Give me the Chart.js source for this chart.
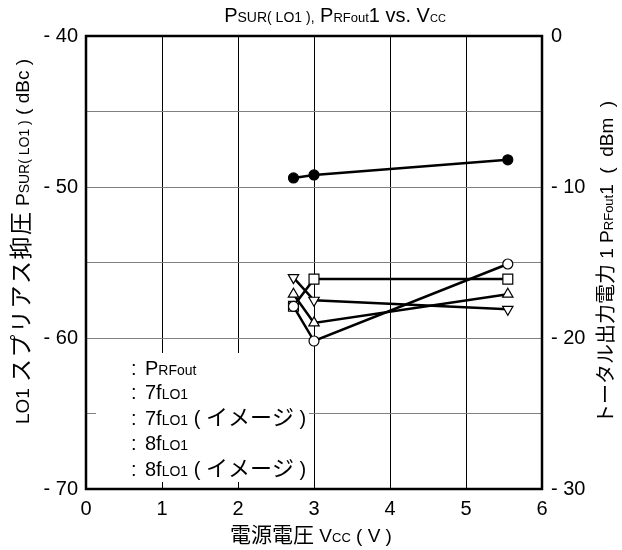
<!DOCTYPE html>
<html lang="ja">
<head>
    <meta charset="UTF-8">
    <title>PSUR(LO1), PRFout1 vs. Vcc</title>
    <script src="https://cdn.jsdelivr.net/npm/chart.js"></script>
    <style>
        body { margin: 0; background: #fff; }
        canvas { display: block; }
    </style>
</head>
<body>
    <canvas id="vccChart" width="622" height="550"></canvas>

    <script>
        // supply voltage (V)
        const vcc = [2.73, 3.0, 5.55];
        // total output power PRFout1 (dBm, right axis)
        const pRFout = [-9.4, -9.2, -8.2];
        // LO1 spurious suppression (dBc, left axis)
        const f7LO1 = [-57.9, -60.2, -55.1];
        const f7LO1Image = [-57.9, -56.1, -56.1];
        const f8LO1 = [-57.1, -59.0, -57.1];
        const f8LO1Image = [-56.0, -57.5, -58.1];

        const FONT = '"Liberation Sans", Arial, "Noto Sans CJK JP", sans-serif';

        // width of one run; r = [text, size, letterSpacing]
        function runWidth(ctx, r) {
            ctx.font = r[1] + 'px ' + FONT;
            const sp = r[2] || 0;
            return ctx.measureText(r[0]).width + sp * r[0].length;
        }

        // draw text made of runs with different sizes (sub/superscript look)
        function drawRuns(ctx, runs, x, y, angle, align) {
            ctx.save();
            ctx.translate(x, y);
            ctx.rotate(angle);
            ctx.fillStyle = '#000';
            ctx.textAlign = 'left';
            ctx.textBaseline = 'alphabetic';
            let total = 0;
            runs.forEach(r => { total += runWidth(ctx, r); });
            let cx = align === 'center' ? -total / 2 : 0;
            runs.forEach(r => {
                ctx.font = r[1] + 'px ' + FONT;
                if (r[2]) {
                    for (const ch of r[0]) {
                        ctx.fillText(ch, cx + r[2] / 2, 0);
                        cx += ctx.measureText(ch).width + r[2];
                    }
                } else {
                    ctx.fillText(r[0], cx, 0);
                    cx += ctx.measureText(r[0]).width;
                }
            });
            ctx.restore();
        }

        const decorPlugin = {
            id: 'decor',
            beforeDatasetsDraw(chart) {
                const ctx = chart.ctx;
                const a = chart.chartArea;
                const xs = chart.scales.x;
                // white legend box over the grid
                ctx.save();
                ctx.fillStyle = '#fff';
                ctx.fillRect(96, 353, 213, 130);
                // small inner ticks at the bottom
                ctx.strokeStyle = '#000';
                ctx.lineWidth = 1;
                [1, 2].forEach(v => {
                    const px = Math.round(xs.getPixelForValue(v)) + 0.5;
                    ctx.beginPath();
                    ctx.moveTo(px, a.bottom);
                    ctx.lineTo(px, a.bottom - 7);
                    ctx.stroke();
                });
                // frame
                ctx.lineWidth = 2.5;
                ctx.strokeRect(a.left, a.top, a.right - a.left, a.bottom - a.top);
                ctx.restore();

                const img = [[' ( ', 20], ['イメージ', 22], [' )', 20]];
                const rows = [
                    [['P', 20], ['RFout', 14]],
                    [['7f', 20], ['LO1', 14]],
                    [['7f', 20], ['LO1', 14]].concat(img),
                    [['8f', 20], ['LO1', 14]],
                    [['8f', 20], ['LO1', 14]].concat(img)
                ];
                const base = [375, 399, 425, 450, 476];
                rows.forEach((runs, i) => {
                    drawRuns(ctx, [[':', 20]], 131, base[i], 0, 'left');
                    drawRuns(ctx, runs, 145, base[i], 0, 'left');
                });
            },
            afterDraw(chart) {
                const ctx = chart.ctx;
                // title
                drawRuns(ctx, [['P', 20], ['SUR( LO1 ),', 14], [' P', 20], ['RFout', 13], ['1 vs. V', 20], ['CC', 11]],
                    335, 22, 0, 'center');
                // left axis title (runs from the bottom up)
                drawRuns(ctx, [['LO1 ', 19], ['スプリアス抑圧', 23, 1.5], [' P', 19], ['SUR( LO1 )', 14], [' ( dBc )', 19]],
                    29, 424, -Math.PI / 2, 'left');
                // right axis title
                drawRuns(ctx, [['トータル出力電力', 20], [' 1 P', 19], ['RFout', 13], ['1', 19], ['  (  dBm  )', 19]],
                    613, 424, -Math.PI / 2, 'left');
                // x axis title
                drawRuns(ctx, [['電源電圧', 21], [' V', 19], ['CC', 13], [' ( V )', 19]],
                    311, 542, 0, 'center');
            }
        };

        const pts = arr => vcc.map((x, i) => ({ x: x, y: arr[i] }));

        const lineStyle = {
            showLine: true,
            borderColor: '#000',
            borderWidth: 2.5,
            pointBorderColor: '#000',
            pointBorderWidth: 1.2,
            pointBackgroundColor: '#fff',
            yAxisID: 'y'
        };

        const tickFont = { family: FONT, size: 20 };

        const ctx = document.getElementById('vccChart').getContext('2d');
        const vccChart = new Chart(ctx, {
            type: 'scatter',
            data: {
                datasets: [
                    Object.assign({}, lineStyle, { label: '7fLO1', data: pts(f7LO1), pointStyle: 'circle', pointRadius: 5 }),
                    Object.assign({}, lineStyle, { label: '7fLO1 (イメージ)', data: pts(f7LO1Image), pointStyle: 'rect', pointRadius: 7 }),
                    Object.assign({}, lineStyle, { label: '8fLO1', data: pts(f8LO1), pointStyle: 'triangle', pointRadius: 6 }),
                    Object.assign({}, lineStyle, { label: '8fLO1 (イメージ)', data: pts(f8LO1Image), pointStyle: 'triangle', pointRotation: 180, pointRadius: 6 }),
                    Object.assign({}, lineStyle, { label: 'PRFout', data: pts(pRFout), pointStyle: 'circle', pointRadius: 5,
                        pointBackgroundColor: '#000', yAxisID: 'y1' })
                ]
            },
            options: {
                responsive: false,
                animation: false,
                layout: { padding: { top: 36 } },
                plugins: {
                    legend: { display: false },
                    title: { display: false },
                    tooltip: { enabled: false }
                },
                scales: {
                    x: {
                        type: 'linear',
                        min: 0,
                        max: 6,
                        ticks: { stepSize: 1, color: '#000', padding: 8, font: tickFont },
                        grid: { color: '#000', lineWidth: 1, drawTicks: false },
                        border: { display: false },
                        afterFit: s => { s.height = 61; }
                    },
                    y: {
                        position: 'left',
                        min: -70,
                        max: -40,
                        ticks: {
                            stepSize: 5,
                            color: '#000',
                            padding: 8,
                            font: tickFont,
                            callback: v => (v % 10 === 0 ? '- ' + Math.abs(v) : '')
                        },
                        grid: { color: '#808080', lineWidth: 1, drawTicks: false },
                        border: { display: false },
                        afterFit: s => { s.width = 86; }
                    },
                    y1: {
                        position: 'right',
                        min: -30,
                        max: 0,
                        ticks: {
                            stepSize: 10,
                            color: '#000',
                            padding: 9,
                            font: tickFont,
                            callback: v => (v === 0 ? '0' : '- ' + Math.abs(v))
                        },
                        grid: { display: false, drawTicks: false },
                        border: { display: false },
                        afterFit: s => { s.width = 80; }
                    }
                }
            },
            plugins: [decorPlugin]
        });
    </script>
</body>
</html>
